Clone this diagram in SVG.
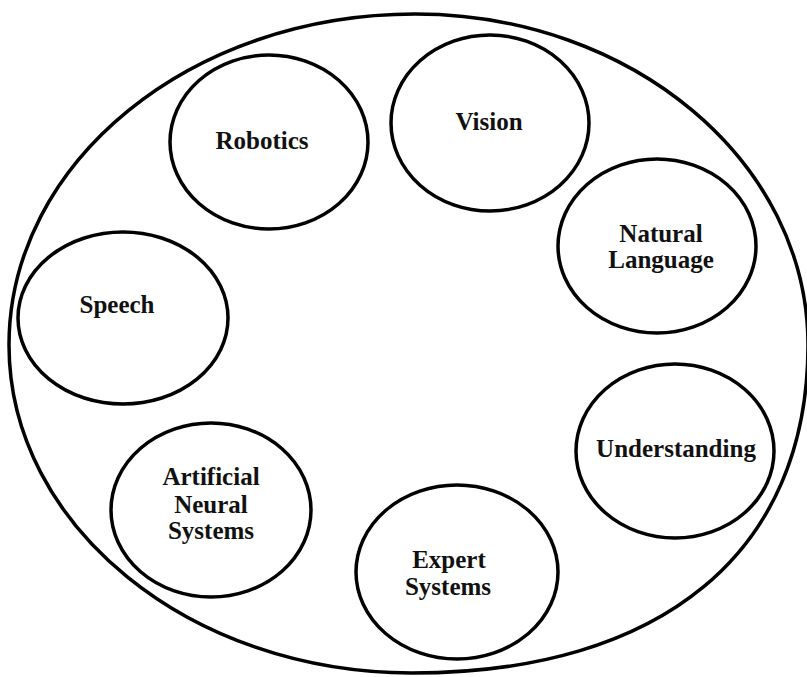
<svg xmlns="http://www.w3.org/2000/svg" width="807" height="677" viewBox="0 0 807 677">
<style>
.ring{fill:none;stroke:#000;stroke-width:3.5}
.node{fill:none;stroke:#000;stroke-width:3.5}
.t{font-family:"Liberation Serif","Times New Roman",serif;font-size:25px;font-weight:bold;fill:#111;text-anchor:middle}
</style>
<rect width="807" height="677" fill="#fff"/>
<g id="outer"><path class="ring" d="M415,14 C632,14 808,162 808,345 C808,552 662,673 412,673 C190,673 9,526 9,345 C9,162 191,14 415,14 Z"/></g>
<g id="robotics"><ellipse class="node" cx="269" cy="142" rx="99" ry="87"/><text class="t" x="262" y="149">Robotics</text></g>
<g id="vision"><ellipse class="node" cx="490" cy="123" rx="99" ry="88"/><text class="t" x="489" y="130">Vision</text></g>
<g id="natural-language"><ellipse class="node" cx="657" cy="246" rx="99" ry="87"/><text class="t" x="661" y="242">Natural</text><text class="t" x="661" y="268">Language</text></g>
<g id="speech"><ellipse class="node" cx="123" cy="318" rx="105" ry="86"/><text class="t" x="117" y="313">Speech</text></g>
<g id="understanding"><ellipse class="node" cx="675" cy="451" rx="99" ry="87"/><text class="t" x="676" y="457">Understanding</text></g>
<g id="ans"><ellipse class="node" cx="211" cy="510" rx="100" ry="87"/><text class="t" x="211" y="485">Artificial</text><text class="t" x="211" y="513">Neural</text><text class="t" x="211" y="539">Systems</text></g>
<g id="expert"><ellipse class="node" cx="457" cy="572" rx="101" ry="87"/><text class="t" x="449" y="568">Expert</text><text class="t" x="448" y="595">Systems</text></g>
<g id="connectors"></g>
</svg>
